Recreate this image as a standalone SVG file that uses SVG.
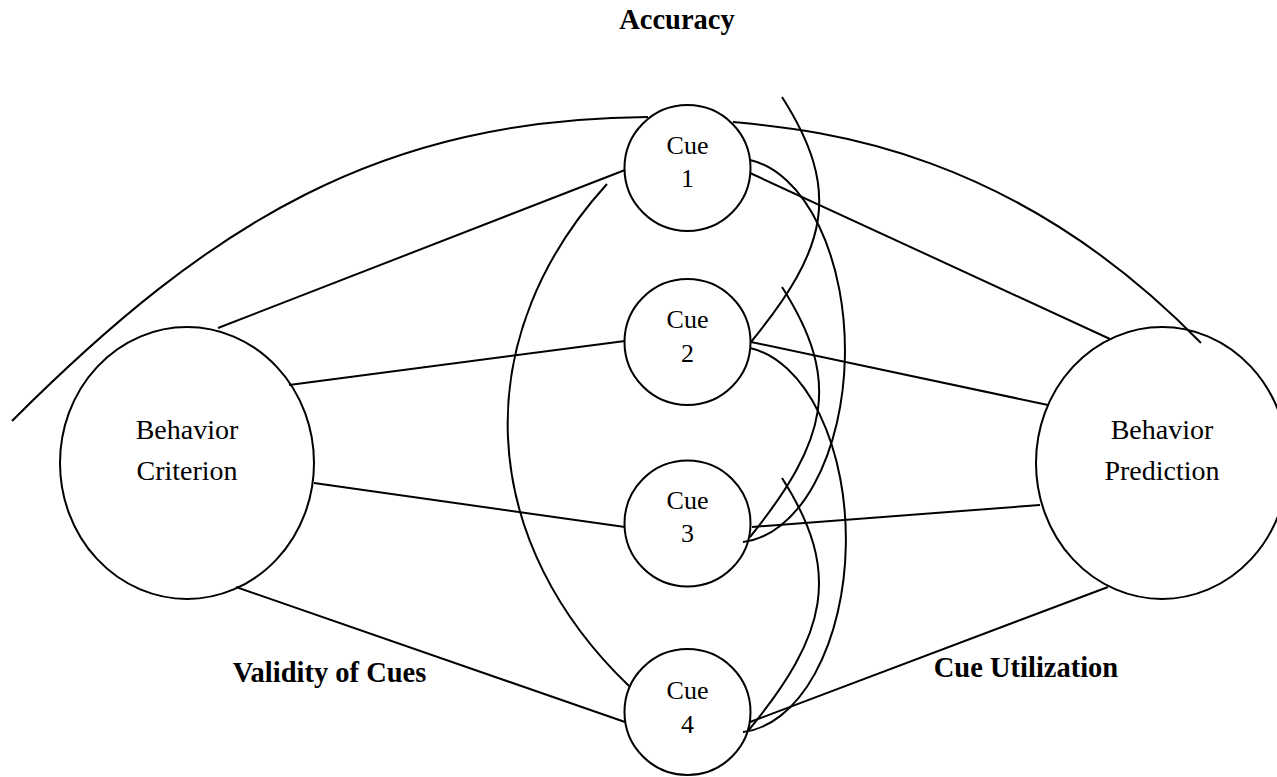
<svg xmlns="http://www.w3.org/2000/svg" width="1277" height="777" viewBox="0 0 1277 777">
<style>
.shape{fill:#fff;stroke:#000;stroke-width:2}
.conn{fill:none;stroke:#000;stroke-width:2}
.lbl{font-family:"Liberation Serif","Times New Roman",serif;fill:#000;text-anchor:middle}
.big{font-size:28px}
.cue{font-size:26px}
.bold{font-size:28.5px;font-weight:bold}
</style>
<rect width="1277" height="777" fill="#fff"/>
<g id="behavior-criterion">
<ellipse class="shape" cx="187" cy="463" rx="127" ry="136"/>
<text class="lbl big" x="187" y="439">Behavior</text>
<text class="lbl big" x="187" y="480">Criterion</text>
</g>
<g id="behavior-prediction">
<ellipse class="shape" cx="1162" cy="463" rx="126" ry="136"/>
<text class="lbl big" x="1162" y="439">Behavior</text>
<text class="lbl big" x="1162" y="480">Prediction</text>
</g>
<g id="cue1">
<circle class="shape" cx="687.5" cy="168" r="63"/>
<text class="lbl cue" x="687.5" y="154">Cue</text>
<text class="lbl cue" x="687.5" y="187">1</text>
</g>
<g id="cue2">
<circle class="shape" cx="687.5" cy="342" r="63"/>
<text class="lbl cue" x="687.5" y="328">Cue</text>
<text class="lbl cue" x="687.5" y="362">2</text>
</g>
<g id="cue3">
<circle class="shape" cx="687.5" cy="523.5" r="63"/>
<text class="lbl cue" x="687.5" y="509">Cue</text>
<text class="lbl cue" x="687.5" y="542">3</text>
</g>
<g id="cue4">
<circle class="shape" cx="687.5" cy="712" r="63"/>
<text class="lbl cue" x="687.5" y="699">Cue</text>
<text class="lbl cue" x="687.5" y="733">4</text>
</g>
<g id="connectors">
<path class="conn" d="M12,421 C212,221 381,119 648,117"/>
<path class="conn" d="M733,122 C813,130 1008,145 1201,343"/>
<line class="conn" x1="218" y1="328" x2="625" y2="170"/>
<line class="conn" x1="289" y1="385" x2="625" y2="341"/>
<line class="conn" x1="314" y1="483" x2="625" y2="527"/>
<line class="conn" x1="236" y1="587" x2="625" y2="722"/>
<line class="conn" x1="750" y1="173" x2="1110" y2="339"/>
<line class="conn" x1="751" y1="342" x2="1048" y2="405"/>
<line class="conn" x1="752" y1="527" x2="1040" y2="505"/>
<line class="conn" x1="750" y1="722" x2="1108" y2="587"/>
<path class="conn" d="M607,184 A600 435 0 0 0 629,686"/>
<path class="conn" d="M782,97 C842,191 828,248 751,342"/>
<path class="conn" d="M782,287 C842,381 828,440 750,537"/>
<path class="conn" d="M782,478 C842,572 828,634 748,731"/>
<path class="conn" d="M750,160 A109 192 0 0 1 743,542"/>
<path class="conn" d="M750,348 A110 193 0 0 1 743,732"/>
</g>
<g id="labels">
<text class="lbl bold" x="677" y="29">Accuracy</text>
<text class="lbl bold" x="329.5" y="682">Validity of Cues</text>
<text class="lbl bold" x="1026" y="677">Cue Utilization</text>
</g>
</svg>
